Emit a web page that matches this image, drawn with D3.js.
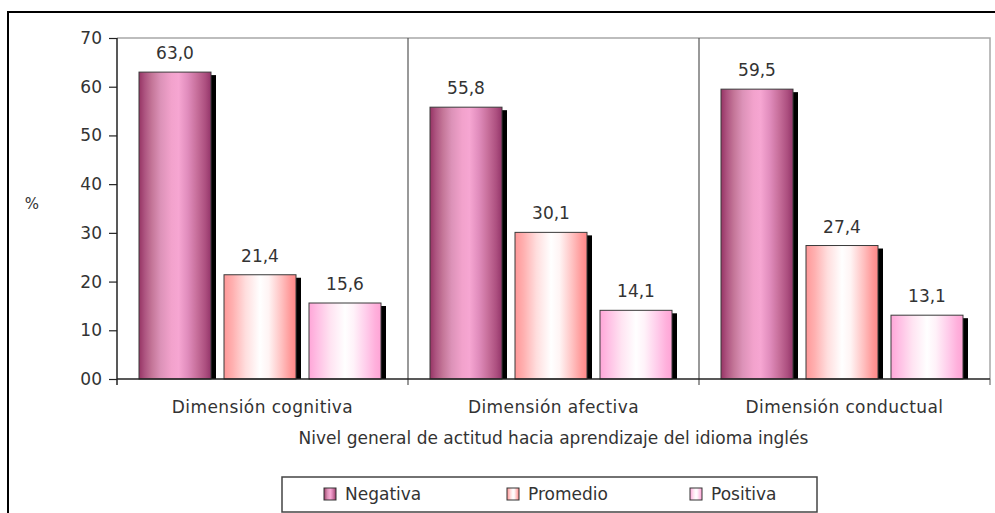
<!DOCTYPE html>
<html>
<head>
<meta charset="utf-8">
<script src="https://cdn.jsdelivr.net/npm/d3@7"></script>
<style>
  html, body { margin: 0; padding: 0; background: #fff; }
  svg { display: block; }
  text { font-family: "DejaVu Sans", Verdana, sans-serif; fill: #333; }
</style>
</head>
<body>
<svg id="chart" width="995" height="513"></svg>
<script>
// Actitud hacia el aprendizaje del idioma inglés, por dimensión (%)
const categories = ["Dimensión cognitiva", "Dimensión afectiva", "Dimensión conductual"];
const seriesNames = ["Negativa", "Promedio", "Positiva"];
const negativa = [63.0, 55.8, 59.5];
const promedio = [21.4, 30.1, 27.4];
const positiva = [15.6, 14.1, 13.1];
const yTicks = [0, 10, 20, 30, 40, 50, 60, 70];
const yTickLabels = ["00", "10", "20", "30", "40", "50", "60", "70"];
const xTitle = "Nivel general de actitud hacia aprendizaje del idioma inglés";
const yTitle = "%";

const seriesValues = [negativa, promedio, positiva];
const rows = categories.map((c, i) => ({
  category: c,
  values: seriesNames.map((s, k) => ({ series: s, value: seriesValues[k][i] }))
}));

const svg = d3.select("#chart");
const plot = { left: 117, right: 990, top: 38, bottom: 379 };
const fontSize = 17;

// Gradient fills for the cylinder-like bars
const gradients = {
  Negativa: [[0, "#963464"], [0.08, "#ad5480"], [0.18, "#c47698"], [0.3, "#dc92b8"], [0.45, "#f2a2cc"], [0.55, "#f6a6d2"], [0.68, "#e08cbc"], [0.8, "#c8709c"], [0.92, "#ad5080"], [1, "#94356a"]],
  Promedio: [[0, "#ff9898"], [0.12, "#ffb0b0"], [0.3, "#ffdede"], [0.5, "#ffffff"], [0.62, "#fff4f4"], [0.8, "#ffc0c0"], [0.92, "#ff9a9a"], [1, "#ff8888"]],
  Positiva: [[0, "#ffa6d8"], [0.12, "#ffbfe4"], [0.3, "#ffe4f2"], [0.5, "#ffffff"], [0.62, "#fff2f9"], [0.8, "#ffcbea"], [0.92, "#ffb0dc"], [1, "#ffa4d6"]]
};
const defs = svg.append("defs");
seriesNames.forEach(s => {
  const g = defs.append("linearGradient")
    .attr("id", "grad-" + s)
    .attr("x1", "0%").attr("x2", "100%").attr("y1", "0%").attr("y2", "0%");
  gradients[s].forEach(([o, c]) => g.append("stop").attr("offset", o).attr("stop-color", c));
});

// Outer frame
svg.append("rect")
  .attr("x", 8).attr("y", 12)
  .attr("width", 1000).attr("height", 520)
  .attr("fill", "none").attr("stroke", "#000").attr("stroke-width", 2);

// Scales
const x0 = d3.scaleBand().domain(categories).range([plot.left, plot.right]);
const x1 = d3.scaleBand().domain(seriesNames).range([0, 242]).paddingInner(13 / 85);
const groupOffset = 22;
const y = d3.scaleLinear().domain([0, 70]).range([plot.bottom, plot.top]);

// Plot frame: top and right edges
svg.append("path")
  .attr("d", `M${plot.left},${plot.top}H${plot.right}V${plot.bottom}`)
  .attr("fill", "none").attr("stroke", "#a8a8a8").attr("stroke-width", 1.5);

// Category separators
categories.slice(1).forEach(c => {
  svg.append("line")
    .attr("x1", x0(c)).attr("x2", x0(c))
    .attr("y1", plot.top).attr("y2", plot.bottom + 6)
    .attr("stroke", "#555").attr("stroke-width", 1.2);
});

// Bars
const groups = svg.append("g").selectAll("g")
  .data(rows).join("g")
  .attr("transform", d => `translate(${x0(d.category) + groupOffset},0)`);

groups.selectAll("rect.shadow")
  .data(d => d.values).join("rect")
  .attr("class", "shadow")
  .attr("x", d => x1(d.series) + 5)
  .attr("y", d => y(d.value) + 3)
  .attr("width", x1.bandwidth())
  .attr("height", d => y(0) - y(d.value) - 3)
  .attr("fill", "#000");

groups.selectAll("rect.bar")
  .data(d => d.values).join("rect")
  .attr("class", "bar")
  .attr("x", d => x1(d.series))
  .attr("y", d => y(d.value))
  .attr("width", x1.bandwidth())
  .attr("height", d => y(0) - y(d.value))
  .attr("fill", d => `url(#grad-${d.series})`)
  .attr("stroke", "#3a3a3a").attr("stroke-width", 1);

groups.selectAll("text.value")
  .data(d => d.values).join("text")
  .attr("class", "value")
  .attr("x", d => x1(d.series) + x1.bandwidth() / 2)
  .attr("y", d => y(d.value) - 13)
  .attr("text-anchor", "middle")
  .attr("font-size", fontSize)
  .text(d => d3.format(".1f")(d.value).replace(".", ","));

// Y axis
const yAxis = svg.append("g")
  .attr("transform", `translate(${plot.left},0)`)
  .call(d3.axisLeft(y).tickValues(yTicks).tickSize(8).tickPadding(7)
    .tickFormat((d, i) => yTickLabels[i]));
yAxis.select(".domain").attr("stroke", "#222").attr("stroke-width", 1.5)
  .attr("d", `M0,${plot.top}V${plot.bottom + 6}`);
yAxis.selectAll(".tick line").attr("stroke", "#222").attr("stroke-width", 1.2);
yAxis.selectAll(".tick text")
  .attr("font-size", fontSize).attr("fill", "#333")
  .style("font-family", "'DejaVu Sans', Verdana, sans-serif");

// X axis
const xAxis = svg.append("g")
  .attr("transform", `translate(0,${plot.bottom})`)
  .call(d3.axisBottom(x0).tickSize(0).tickPadding(22));
xAxis.select(".domain").attr("stroke", "#222").attr("stroke-width", 1.5)
  .attr("d", `M${plot.left},0H${plot.right}`);
xAxis.selectAll(".tick text")
  .attr("font-size", fontSize).attr("fill", "#333")
  .attr("letter-spacing", 0.4)
  .style("font-family", "'DejaVu Sans', Verdana, sans-serif");
svg.append("line")
  .attr("x1", plot.right).attr("x2", plot.right)
  .attr("y1", plot.bottom).attr("y2", plot.bottom + 6)
  .attr("stroke", "#555");

// Axis titles
svg.append("text")
  .attr("x", (plot.left + plot.right) / 2).attr("y", 444)
  .attr("text-anchor", "middle").attr("font-size", fontSize)
  .text(xTitle);
svg.append("text")
  .attr("x", 32).attr("y", 209)
  .attr("text-anchor", "middle").attr("font-size", 15)
  .text(yTitle);

// Legend
const legend = svg.append("g");
legend.append("rect")
  .attr("x", 282).attr("y", 477).attr("width", 535).attr("height", 35)
  .attr("fill", "#fff").attr("stroke", "#444").attr("stroke-width", 1.5);
const legendX = d3.scalePoint().domain(seriesNames).range([324, 690]);
const items = legend.selectAll("g.item").data(seriesNames).join("g")
  .attr("class", "item")
  .attr("transform", d => `translate(${legendX(d)},488)`);
items.append("rect")
  .attr("width", 12).attr("height", 12)
  .attr("fill", d => `url(#grad-${d})`)
  .attr("stroke", "#333").attr("stroke-width", 1);
items.append("text")
  .attr("x", 21).attr("y", 12)
  .attr("font-size", fontSize)
  .text(d => d);
</script>
</body>
</html>
